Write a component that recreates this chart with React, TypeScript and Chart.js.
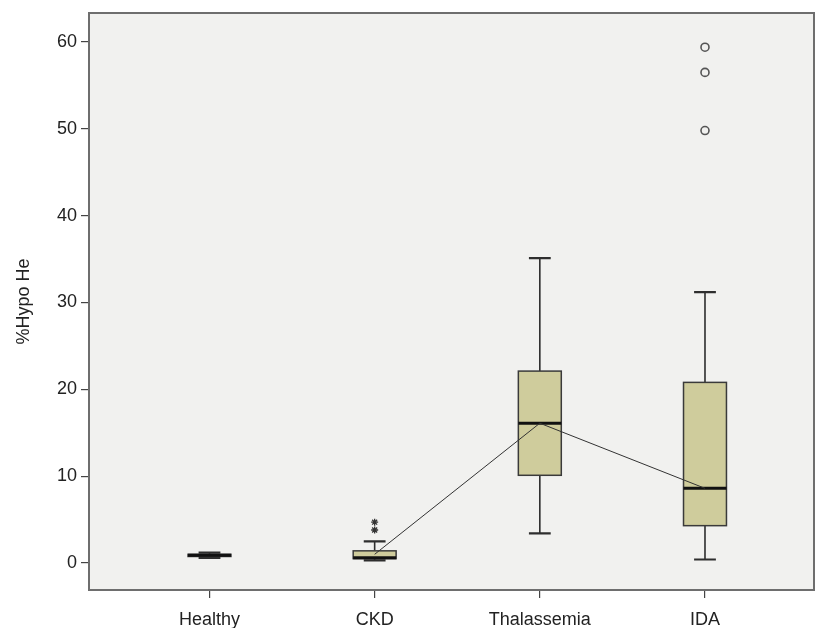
import React, { useEffect, useRef } from "react";
import { Chart, registerables } from "chart.js";

Chart.register(...registerables);

// ---- data ----
const categories = ["Healthy", "CKD", "Thalassemia", "IDA"];
const whiskerLow = [0.6, 0.3, 3.4, 0.4];
const q1 = [0.75, 0.5, 10.1, 4.3];
const medians = [0.9, 0.6, 16.1, 8.6];
const q3 = [1.0, 1.4, 22.1, 20.8];
const whiskerHigh = [1.2, 2.5, 35.1, 31.2];
const medianLine = [null, 1.0, 16.1, 8.6];
const outlierCategory = [4, 4, 4];
const outlierValues = [59.4, 56.5, 49.8];
const extremeCategory = [2, 2];
const extremeValues = [4.7, 3.8];
const yTicks = [0, 10, 20, 30, 40, 50, 60];

const FONT = "'Liberation Sans', Arial, sans-serif";

const bgPlugin = {
  id: "bgFrame",
  beforeDraw(chart: any) {
    const { ctx, chartArea: a } = chart;
    ctx.save();
    ctx.fillStyle = "#F1F1EF";
    ctx.fillRect(a.left, a.top, a.right - a.left, a.bottom - a.top);
    ctx.restore();
  },
  afterDraw(chart: any) {
    const { ctx, chartArea: a } = chart;
    ctx.save();
    ctx.strokeStyle = "#6E6E6E";
    ctx.lineWidth = 2;
    ctx.strokeRect(a.left, a.top, a.right - a.left, a.bottom - a.top);
    ctx.restore();
  },
};

const boxPlugin = {
  id: "boxes",
  beforeDatasetsDraw(chart: any) {
    const { ctx, scales } = chart;
    const x = scales.x;
    const y = scales.y;
    ctx.save();
    categories.forEach((_, i) => {
      const v = i + 1;
      const cx = x.getPixelForValue(v);
      const half = x.getPixelForValue(v + 0.13) - cx;
      const capHalf = x.getPixelForValue(v + 0.066) - cx;
      const yLo = y.getPixelForValue(whiskerLow[i]);
      const yQ1 = y.getPixelForValue(q1[i]);
      const yMed = y.getPixelForValue(medians[i]);
      const yQ3 = y.getPixelForValue(q3[i]);
      const yHi = y.getPixelForValue(whiskerHigh[i]);

      ctx.strokeStyle = "#2E2E2E";
      ctx.lineWidth = 1.6;
      ctx.beginPath();
      ctx.moveTo(cx, yHi);
      ctx.lineTo(cx, yQ3);
      ctx.moveTo(cx, yQ1);
      ctx.lineTo(cx, yLo);
      ctx.stroke();

      ctx.lineWidth = 2.2;
      ctx.beginPath();
      ctx.moveTo(cx - capHalf, yHi);
      ctx.lineTo(cx + capHalf, yHi);
      ctx.moveTo(cx - capHalf, yLo);
      ctx.lineTo(cx + capHalf, yLo);
      ctx.stroke();

      ctx.fillStyle = "#CFCC9C";
      ctx.fillRect(cx - half, yQ3, half * 2, yQ1 - yQ3);
      ctx.lineWidth = 1.5;
      ctx.strokeStyle = "#3A3A3A";
      ctx.strokeRect(cx - half, yQ3, half * 2, yQ1 - yQ3);

      ctx.strokeStyle = "#111111";
      ctx.lineWidth = 3;
      ctx.beginPath();
      ctx.moveTo(cx - half, yMed);
      ctx.lineTo(cx + half, yMed);
      ctx.stroke();
    });
    ctx.restore();
  },
};

export default function App() {
  const ref = useRef<HTMLCanvasElement | null>(null);

  useEffect(() => {
    document.body.style.margin = "0";
    const canvas = ref.current;
    if (!canvas) return;
    const chart = new Chart(canvas, {
      type: "scatter",
      data: {
        datasets: [
          {
            type: "line",
            data: medianLine.map((m, i) => ({ x: i + 1, y: m })) as any,
            borderColor: "#333333",
            borderWidth: 1,
            pointRadius: 0,
            spanGaps: false,
            fill: false,
          } as any,
          {
            data: outlierCategory.map((c, i) => ({ x: c, y: outlierValues[i] })),
            pointStyle: "circle",
            radius: 4,
            borderColor: "#555555",
            borderWidth: 1.6,
            backgroundColor: "rgba(0,0,0,0)",
          },
          {
            data: extremeCategory.map((c, i) => ({ x: c, y: extremeValues[i] })),
            pointStyle: "star",
            radius: 3.5,
            borderColor: "#333333",
            borderWidth: 1.3,
            backgroundColor: "#333333",
          },
        ],
      },
      options: {
        animation: false,
        responsive: false,
        layout: { autoPadding: false, padding: { top: 13, right: 2, left: 0, bottom: 0 } },
        plugins: {
          legend: { display: false },
          tooltip: { enabled: false },
        },
        scales: {
          x: {
            type: "linear",
            min: 0.2705,
            max: 4.66,
            border: { display: false },
            grid: {
              drawOnChartArea: false,
              tickLength: 8,
              color: "#444444",
              lineWidth: 1.2,
            },
            afterBuildTicks: (scale: any) => {
              scale.ticks = categories.map((_, i) => ({ value: i + 1 }));
            },
            afterFit: (scale: any) => {
              scale.height = 38;
              scale.paddingLeft = 0;
              scale.paddingRight = 0;
            },
            ticks: {
              autoSkip: false,
              maxRotation: 0,
              padding: 11,
              color: "#222222",
              font: { family: FONT, size: 18 },
              callback: (v: any) => categories[Math.round(v) - 1] ?? "",
            },
          },
          y: {
            type: "linear",
            min: -3.11,
            max: 63.34,
            border: { display: false },
            grid: {
              drawOnChartArea: false,
              tickLength: 8,
              color: "#444444",
              lineWidth: 1.2,
            },
            afterBuildTicks: (scale: any) => {
              scale.ticks = yTicks.map((t) => ({ value: t }));
            },
            afterFit: (scale: any) => {
              scale.width = 89;
              scale.paddingTop = 0;
              scale.paddingBottom = 0;
            },
            ticks: {
              padding: 4,
              color: "#222222",
              font: { family: FONT, size: 18 },
              callback: (v: any) => String(v),
            },
            title: {
              display: true,
              text: "%Hypo He",
              color: "#222222",
              font: { family: FONT, size: 18 },
              padding: { top: 13, bottom: 0 },
            },
          },
        },
      },
      plugins: [bgPlugin, boxPlugin],
    });
    return () => chart.destroy();
  }, []);

  return (
    <div style={{ width: 816, height: 628, background: "#ffffff" }}>
      <canvas ref={ref} width={816} height={628} style={{ display: "block" }} />
    </div>
  );
}
